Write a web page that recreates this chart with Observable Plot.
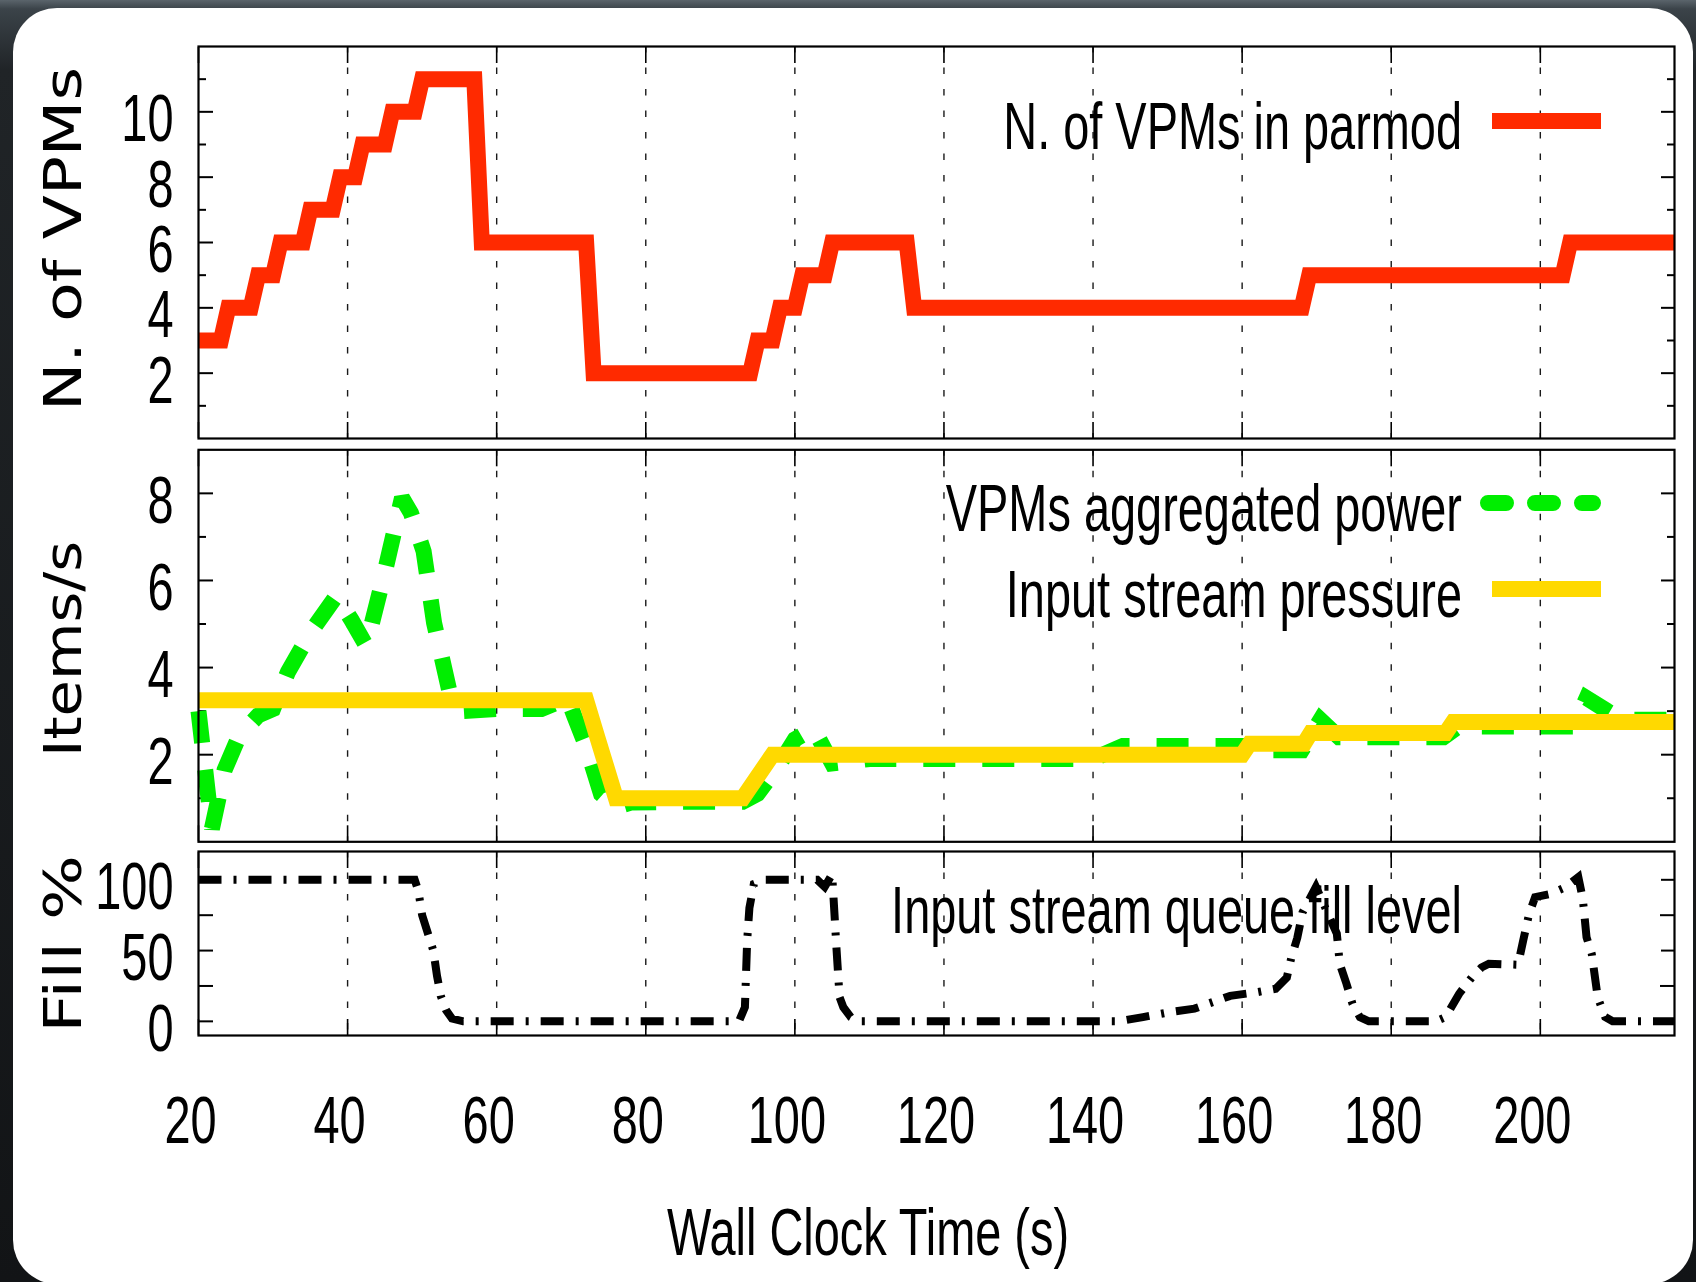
<!DOCTYPE html>
<html>
<head>
<meta charset="utf-8">
<script src="https://cdn.jsdelivr.net/npm/d3@7"></script>
<script src="https://cdn.jsdelivr.net/npm/@observablehq/plot@0.6"></script>
<style>
  html, body { margin: 0; padding: 0; width: 1696px; height: 1282px; overflow: hidden; background: #111315; }
  #page {
    position: relative; width: 1696px; height: 1282px; overflow: hidden;
    background: linear-gradient(to bottom, #5a646b 0px, #3b4349 9px, #202427 70px, #121416 100%);
  }
  #card {
    position: absolute; left: 13px; top: 8px; width: 1680px; height: 1276px;
    background: #ffffff; border-radius: 44px;
  }
  .panel { position: absolute; left: 0; }
</style>
</head>
<body>
<div id="page"><div id="card"></div></div>
<script>
// ---- Number of VPMs in the parmod over time ----
const vpmTime  = [20, 23, 24, 27, 28, 30, 31, 34, 35, 38, 39, 41, 42, 45, 46, 49, 50, 57, 58, 72, 73, 94, 95, 97, 98, 100, 101, 104, 105, 115, 116, 168, 169, 203, 204, 218];
const vpmCount = [ 3,  3,  4,  4,  5,  5,  6,  6,  7,  7,  8,  8,  9,  9, 10, 10, 11, 11,  6,  6,  2,  2,  3,  3,  4,   4,   5,   5,   6,   6,   4,   4,   5,   5,   6,   6];

// ---- Aggregated power of the VPMs (items/s) ----
const powerTime  = [20, 21.8, 23.5, 25.5, 28, 30, 32, 35, 38.5, 40.5, 42.5, 45, 47.3, 48.5, 50.2, 51.6, 53.6, 55.5, 60, 66, 69.5, 70.5, 72, 74, 76, 78, 85, 93, 95, 98, 100, 102.5, 105, 110, 140, 144, 160, 161, 168, 170.5, 173, 187, 189, 204.5, 206.2, 209, 211, 218];
const powerValue = [3.0, 0.3, 1.65, 2.45, 2.9, 3.05, 3.9, 4.8, 5.65, 5.1, 4.5, 6.2, 7.9, 7.55, 6.67, 5.03, 3.5, 3.0, 3.05, 3.05, 3.3, 2.85, 2.2, 1.1, 0.8, 0.9, 0.92, 0.92, 1.1, 1.8, 2.35, 2.6, 1.8, 1.9, 1.9, 2.2, 2.2, 2.1, 2.1, 2.8, 2.4, 2.4, 2.65, 2.65, 3.3, 3.0, 2.8, 2.8];

// ---- Input stream pressure (items/s) ----
const pressureTime  = [20, 72, 73.5, 76, 93, 97, 160, 161, 168.3, 169.2, 187.3, 188.3, 218];
const pressureValue = [3.25, 3.25, 2.4, 1.0, 1.0, 2.0, 2.0, 2.25, 2.25, 2.5, 2.5, 2.75, 2.75];

// ---- Input stream queue fill level (%) ----
const fillTime  = [20, 49, 49.5, 50, 51.5, 52, 52.5, 53.2, 54, 55.5, 92.5, 93.3, 93.6, 93.9, 94.5, 96, 103, 104, 105, 105.6, 106, 106.5, 107.5, 108.5, 143.4, 146.7, 150.3, 153.6, 158.4, 162, 164.5, 166, 166.6, 167.4, 168.1, 169.9, 172.7, 173.1, 174, 174.8, 175.8, 177, 186, 187.3, 189.1, 190.8, 192.1, 193.1, 197, 197.7, 198.5, 199.3, 201.3, 203.4, 205.1, 205.7, 206.2, 206.9, 207.7, 208.7, 209.7, 218];
const fillValue = [100, 100, 92, 75, 50, 32, 18, 8, 2, 0, 0, 10, 57, 80, 97, 100, 100, 95, 104, 50, 17, 10, 3, 0, 0, 3, 6.5, 9, 18, 20.6, 23, 31, 45, 59, 77, 95, 62, 40.6, 26.5, 12.4, 3, 0, 0, 3, 19.4, 31, 38, 40.7, 40, 57, 76, 87.7, 90, 94.8, 101.9, 86.6, 59.4, 47.7, 17, 3, 0, 0];

// ---- Axes ----
const timeDomain   = [20, 218];
const xTicks       = [20, 40, 60, 80, 100, 120, 140, 160, 180, 200];
const xTickLabels  = ["20", "40", "60", "80", "100", "120", "140", "160", "180", "200"];
const xGridLines   = [40, 60, 80, 100, 120, 140, 160, 180, 200];

const vpmDomain    = [0, 12];
const vpmMajor     = [2, 4, 6, 8, 10];
const vpmMajorText = ["2", "4", "6", "8", "10"];
const vpmMinor     = [1, 3, 5, 7, 9, 11];

const itemsDomain    = [0, 9];
const itemsMajor     = [2, 4, 6, 8];
const itemsMajorText = ["2", "4", "6", "8"];
const itemsMinor     = [1, 3, 5, 7];

const fillDomain    = [-10, 120];
const fillMajor     = [0, 50, 100];
const fillMajorText = ["0", "50", "100"];
const fillMinor     = [25, 75];

// ---- Series names ----
const vpmName      = "N. of VPMs in parmod";
const powerName    = "VPMs aggregated power";
const pressureName = "Input stream pressure";
const fillName     = "Input stream queue fill level";

// ---- Styling ----
const RED = "#ff2a00", GREEN = "#00ee00", GOLD = "#ffd900";
const W = 1696, ML = 198, MR = 22;
const TEXT_FONT = "'Liberation Sans', Arial, Helvetica, sans-serif";
const TITLE_FONT = "'DejaVu Sans', Verdana, sans-serif";
const FS = 67;
const SQUEEZE = 0.70; // narrow face

const zip = (a, b, ka, kb) => a.map((v, i) => ({[ka]: v, [kb]: b[i]}));
const labelMap = (vals, texts) => new Map(vals.map((v, i) => [v, texts[i]]));

function frameMarks({major, majorText, minor, minorSize}) {
  const lm = labelMap(major, majorText);
  return [
    Plot.gridX(xGridLines, {stroke: "#1a1a1a", strokeOpacity: 1, strokeWidth: 1.4, strokeDasharray: "6.5,15"}),
    Plot.axisX(xTicks, {anchor: "bottom", tickSize: -16, fill: "none", strokeWidth: 1.6, label: null}),
    Plot.axisX(xTicks, {anchor: "top", tickSize: -16, fill: "none", strokeWidth: 1.6, label: null}),
    Plot.axisY(major, {anchor: "left", tickSize: -15, fill: "none", strokeWidth: 2, label: null}),
    Plot.axisY(major, {anchor: "right", tickSize: -14, fill: "none", strokeWidth: 2, label: null}),
    Plot.axisY(minor, {anchor: "left", tickSize: -minorSize, fill: "none", strokeWidth: 2, label: null}),
    Plot.axisY(minor, {anchor: "right", tickSize: -minorSize, fill: "none", strokeWidth: 2, label: null}),
    Plot.axisY(major, {anchor: "left", tickSize: 0, tickPadding: 25, stroke: "none", label: null,
      tickFormat: d => lm.get(d), fontSize: FS, dy: 8, fill: "#000"})
  ];
}

function makePanel({top, height, marginTop, marginBottom, yDomain, marks}) {
  const svg = Plot.plot({
    width: W, height, marginLeft: ML, marginRight: MR, marginTop, marginBottom,
    x: {domain: timeDomain, label: null},
    y: {domain: yDomain, label: null},
    style: {background: "transparent", fontFamily: TEXT_FONT, fontSize: `${FS}px`, color: "#000", overflow: "visible"},
    marks
  });
  const holder = document.createElement("div");
  holder.className = "panel";
  holder.style.top = `${top}px`;
  holder.appendChild(svg);
  document.getElementById("page").appendChild(holder);
  return {svg: d3.select(svg), top};
}

// Panel 1: number of VPMs
const p1 = makePanel({
  top: 0, height: 443, marginTop: 46, marginBottom: 5, yDomain: vpmDomain,
  marks: [
    ...frameMarks({major: vpmMajor, majorText: vpmMajorText, minor: vpmMinor, minorSize: 8}),
    Plot.line(zip(vpmTime, vpmCount, "t", "n"), {x: "t", y: "n", stroke: RED, strokeWidth: 16,
      strokeLinejoin: "miter", strokeLinecap: "butt", strokeMiterlimit: 10}),
    Plot.frame({stroke: "#000", strokeWidth: 2.2})
  ]
});

// Panel 2: items per second
const p2 = makePanel({
  top: 443, height: 403, marginTop: 6.3, marginBottom: 4.7, yDomain: itemsDomain,
  marks: [
    ...frameMarks({major: itemsMajor, majorText: itemsMajorText, minor: itemsMinor, minorSize: 8}),
    Plot.line(zip(powerTime, powerValue, "t", "v"), {x: "t", y: "v", stroke: GREEN, strokeWidth: 16,
      strokeDasharray: "32,27", strokeLinejoin: "miter", strokeLinecap: "butt", strokeMiterlimit: 2.2}),
    Plot.line(zip(pressureTime, pressureValue, "t", "v"), {x: "t", y: "v", stroke: GOLD, strokeWidth: 16,
      strokeLinejoin: "miter", strokeLinecap: "butt", strokeMiterlimit: 4}),
    Plot.frame({stroke: "#000", strokeWidth: 2.2})
  ]
});

// Panel 3: queue fill level, with the shared time axis
const xLm = labelMap(xTicks, xTickLabels);
const p3 = makePanel({
  top: 846, height: 436, marginTop: 5, marginBottom: 247, yDomain: fillDomain,
  marks: [
    ...frameMarks({major: fillMajor, majorText: fillMajorText, minor: fillMinor, minorSize: 15}),
    Plot.axisX(xTicks, {anchor: "bottom", tickSize: 0, tickPadding: 60, stroke: "none", label: null,
      tickFormat: d => xLm.get(d), fontSize: FS, dx: -8, fill: "#000"}),
    Plot.line(zip(fillTime, fillValue, "t", "f"), {x: "t", y: "f", stroke: "#000", strokeWidth: 8,
      strokeDasharray: "23,12,3,12", strokeLinejoin: "miter", strokeLinecap: "butt", strokeMiterlimit: 3}),
    Plot.frame({stroke: "#000", strokeWidth: 2.2})
  ]
});

// ---- Titles and keys ----
function yTitle(panel, text, cy, len) {
  panel.svg.append("text")
    .attr("transform", `translate(81,${cy - panel.top}) rotate(-90)`)
    .attr("text-anchor", "middle")
    .attr("font-family", TITLE_FONT).attr("font-size", 52)
    .attr("textLength", len).attr("lengthAdjust", "spacingAndGlyphs")
    .attr("data-fixed", "1")
    .text(text);
}
function keyText(panel, text, baseline) {
  panel.svg.append("text")
    .attr("x", 1462).attr("y", baseline - panel.top)
    .attr("text-anchor", "end").attr("font-family", TEXT_FONT).attr("font-size", FS)
    .attr("fill", "#000").text(text);
}
function keyLine(panel, y, x1, x2, stroke, dash, cap) {
  const l = panel.svg.append("line")
    .attr("x1", x1).attr("x2", x2).attr("y1", y - panel.top).attr("y2", y - panel.top)
    .attr("stroke", stroke).attr("stroke-width", 16).attr("stroke-linecap", cap || "butt");
  if (dash) l.attr("stroke-dasharray", dash);
}

yTitle(p1, "N. of VPMs", 239, 344);
yTitle(p2, "Items/s", 649, 216);
yTitle(p3, "Fill %", 944, 178);

keyText(p1, vpmName, 149);
keyLine(p1, 121, 1492, 1601, RED);

keyText(p2, powerName, 531);
keyLine(p2, 503, 1488, 1593, GREEN, "18,29", "round");
keyText(p2, pressureName, 617);
keyLine(p2, 589, 1492, 1601, GOLD);

keyText(p3, fillName, 933);

p3.svg.append("text")
  .attr("x", 868).attr("y", 1255 - p3.top)
  .attr("text-anchor", "middle").attr("font-family", TEXT_FONT).attr("font-size", FS)
  .attr("fill", "#000").text("Wall Clock Time (s)");

// Narrow the sans text to the condensed proportions of the figure's face
document.querySelectorAll("#page svg text").forEach(t => {
  if (t.getAttribute("data-fixed")) return;
  const len = t.getComputedTextLength();
  if (len > 0) {
    t.setAttribute("textLength", (len * SQUEEZE).toFixed(1));
    t.setAttribute("lengthAdjust", "spacingAndGlyphs");
  }
});
</script>
</body>
</html>
